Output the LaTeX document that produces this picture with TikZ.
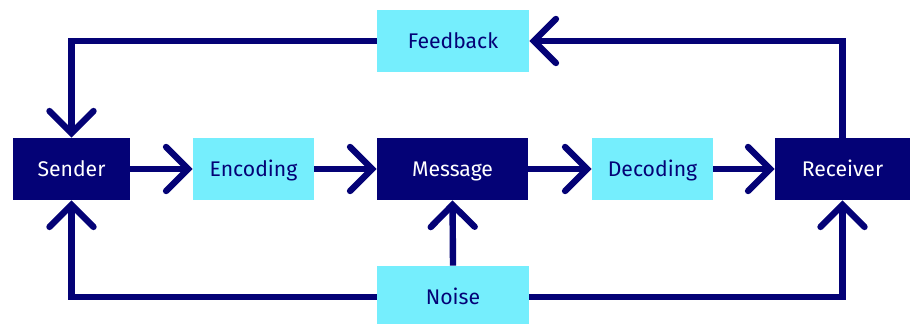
\documentclass[tikz,border=0pt]{standalone}
\usepackage{fontspec}
\setmainfont{Fira Sans}
\usetikzlibrary{arrows.meta,positioning,calc}
\definecolor{cnavy}{RGB}{4,2,118}
\definecolor{ccyan}{RGB}{117,238,253}

\begin{document}
\begin{tikzpicture}[
  x=0.5pt, y=-0.5pt,
  blk/.style={rectangle, fill=cnavy, text=white, minimum height=31pt, inner sep=0pt,
              text height=1.5ex, text depth=0pt, font=\fontsize{10.6}{13}\selectfont},
  stage/.style={rectangle, fill=ccyan, text=cnavy, minimum height=31pt, inner sep=0pt,
                text height=1.5ex, text depth=0pt, font=\fontsize{10.6}{13}\selectfont},
  link/.style={draw=cnavy, line width=3.2pt, line join=miter, -{Straight Barb[length=11pt, width=22pt, line cap=round]}}
]
  \useasboundingbox (0,0) rectangle (914,324);

  % main chain
  \node[blk, minimum width=58.5pt] (snd) at (71.5,169) {Sender};
  \node[stage, minimum width=60.5pt] (enc) at (253.5,169) {Encoding};
  \node[blk, minimum width=75.5pt] (msg) at (452.5,169) {Message};
  \node[stage, minimum width=60.5pt] (dec) at (652.5,169) {Decoding};
  \node[blk, minimum width=67.5pt] (rcv) at (842.5,169) {Receiver};

  % feedback and noise
  \node[stage, minimum width=76pt] (fbk) at (453,41) {Feedback};
  \node[stage, minimum width=76pt] (noi) at (453,297) {Noise};

  % Relations
  \draw[link] (snd) -- (enc);
  \draw[link] (enc) -- (msg);
  \draw[link] (msg) -- (dec);
  \draw[link] (dec) -- (rcv);
  \draw[link] (rcv.north) |- (fbk.east);
  \draw[link] (fbk.west) -| (snd.north);
  \draw[link] (noi.west) -| (snd.south);
  \draw[link] (noi.east) -| (rcv.south);
  \draw[link] (noi.north) -- (msg.south);
\end{tikzpicture}
\end{document}
